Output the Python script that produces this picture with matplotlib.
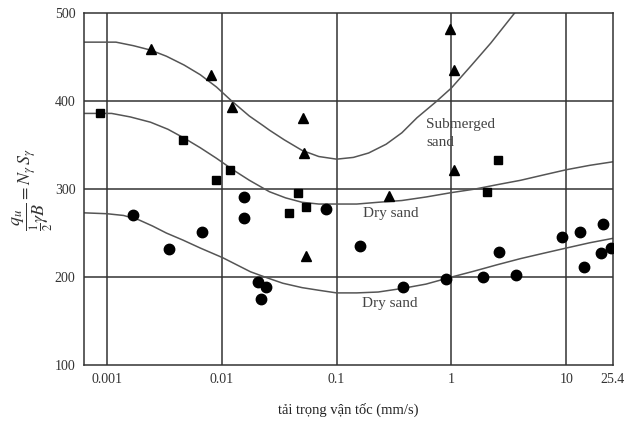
import matplotlib
matplotlib.use("Agg")
import matplotlib.pyplot as plt

plt.rcParams["font.family"] = ["Liberation Serif", "DejaVu Serif"]
plt.rcParams["mathtext.fontset"] = "stix"

# measured points (loading velocity mm/s, N_gamma S_gamma)
tri_x = [0.0024, 0.0081, 0.0122, 0.051, 0.052, 0.054, 0.286, 0.97, 1.05, 1.05]
tri_y = [459, 430, 393, 381, 341, 224, 292, 482, 435, 322]

sq_x = [0.00087, 0.0046, 0.009, 0.0117, 0.0387, 0.0464, 0.0543, 2.02, 2.52]
sq_y = [386, 356, 310, 322, 273, 295, 280, 297, 333]

dot_x = [0.00168, 0.00345, 0.0067, 0.0155, 0.0155, 0.0208, 0.0221, 0.0245, 0.081,
         0.16, 0.378, 0.89, 1.87, 2.57, 3.68, 9.2, 13.2, 14.3, 20.1, 20.9, 24.5]
dot_y = [270, 232, 251, 291, 267, 194, 175, 189, 277,
         235, 189, 198, 200, 228, 202, 245, 251, 212, 227, 260, 233]

# fitted curves
sub_x = [0.00063, 0.001, 0.0012, 0.0017, 0.0024, 0.0033, 0.0047, 0.0065, 0.009, 0.012,
         0.0174, 0.023, 0.026, 0.035, 0.05, 0.07, 0.1, 0.14, 0.19, 0.27, 0.37, 0.5,
         0.63, 0.73, 1.0, 1.5, 2.2, 3.54]
sub_y = [467, 467, 467, 463, 458, 451, 441, 430, 416, 401,
         383, 372, 367, 356, 344, 337, 334, 336, 341, 351, 364, 381,
         392, 399, 415, 441, 466, 500]

mid_x = [0.00063, 0.0011, 0.0016, 0.0024, 0.0034, 0.0047, 0.0065, 0.009, 0.0125, 0.0174,
         0.026, 0.036, 0.05, 0.07, 0.1, 0.15, 0.23, 0.37, 0.6, 1.0, 1.6, 2.5, 4.0,
         6.3, 10, 16, 25.4]
mid_y = [386, 386, 382, 376, 368, 358, 347, 335, 322, 310,
         297, 290, 285, 283, 283, 283, 285, 287, 291, 296, 300, 305, 310,
         316, 322, 327, 331]

low_x = [0.00063, 0.001, 0.0014, 0.0019, 0.0025, 0.0033, 0.0046, 0.0065, 0.0102, 0.0178,
         0.025, 0.034, 0.05, 0.07, 0.1, 0.15, 0.23, 0.37, 0.6, 1.0, 1.6, 2.5, 4.0,
         6.3, 10, 16, 25.4]
low_y = [273, 272, 270, 265, 258, 250, 242, 233, 222, 206,
         199, 193, 188, 185, 182, 182, 183, 187, 192, 200, 207, 214, 221,
         227, 233, 239, 244]

xticks = [0.001, 0.01, 0.1, 1, 10, 25.4]
xtick_labels = ["0.001", "0.01", "0.1", "1", "10", "25.4"]
yticks = [100, 200, 300, 400, 500]

fig = plt.figure(figsize=(6.26, 4.23), dpi=100)
ax = fig.add_axes([0.134, 0.137, 0.845, 0.832])

ax.set_xscale("log")
ax.set_xlim(10 ** -3.2, 25.4)
ax.set_ylim(100, 500)

for v in [0.001, 0.01, 0.1, 1, 10]:
    ax.axvline(v, color="#333333", lw=1.1, zorder=1)
for v in [200, 300, 400]:
    ax.axhline(v, color="#333333", lw=1.1, zorder=1)

for cx, cy in [(sub_x, sub_y), (mid_x, mid_y), (low_x, low_y)]:
    ax.plot(cx, cy, color="#555555", lw=1.1, zorder=2, solid_joinstyle="round")

ax.plot(tri_x, tri_y, "^", color="black", ms=7.5, ls="none", zorder=3)
ax.plot(sq_x, sq_y, "s", color="black", ms=6, ls="none", zorder=3)
ax.plot(dot_x, dot_y, "o", color="black", ms=7.5, ls="none", zorder=3)

ax.text(0.6, 373, "Submerged", fontsize=11, color="#444444", va="center", ha="left")
ax.text(0.6, 353, "sand", fontsize=11, color="#444444", va="center", ha="left")
ax.text(0.17, 272, "Dry sand", fontsize=11, color="#444444", va="center")
ax.text(0.166, 170, "Dry sand", fontsize=11, color="#444444", va="center")

ax.set_xticks(xticks)
ax.set_xticklabels(xtick_labels)
ax.minorticks_off()
ax.set_yticks(yticks)
ax.tick_params(length=0, labelsize=10, colors="#333333", pad=6)

for s in ax.spines.values():
    s.set_color("#333333")
    s.set_linewidth(1.1)

ax.set_ylabel(r"$\dfrac{q_u}{\frac{1}{2}\gamma B} = N_\gamma\, S_\gamma$",
              fontsize=13, color="#333333", labelpad=0)
ax.set_xlabel("tải trọng vận tốc (mm/s)", fontsize=10.5, color="#222222", labelpad=12)

fig.savefig("out.png", dpi=100)
